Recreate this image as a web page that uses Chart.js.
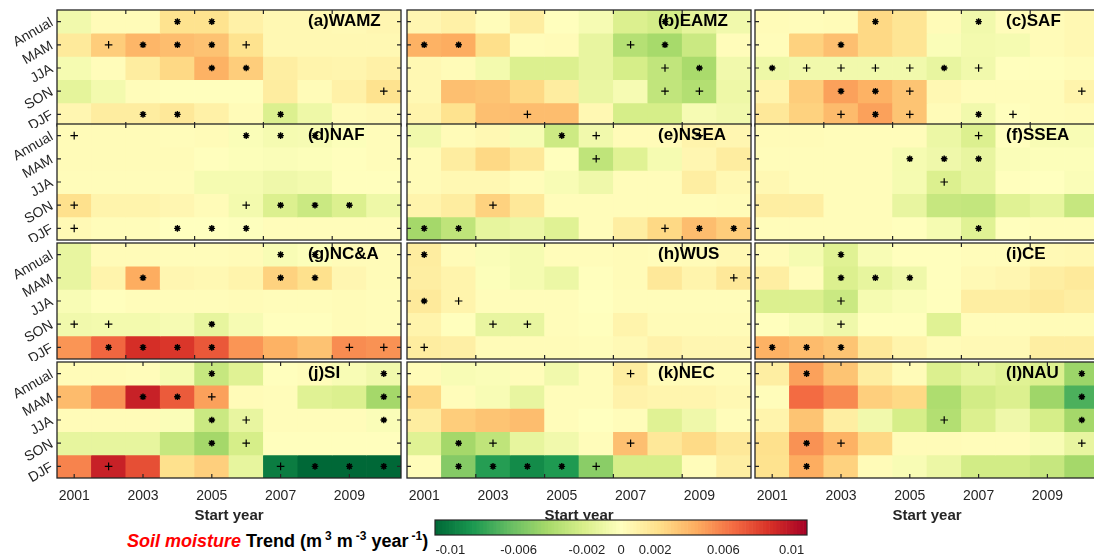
<!DOCTYPE html>
<html><head><meta charset="utf-8">
<script src="https://cdn.jsdelivr.net/npm/chart.js@4.4.1/dist/chart.umd.min.js"></script>
<style>
html,body{margin:0;padding:0;background:#fff;overflow:hidden;width:1094px;height:559px;position:relative;font-family:"Liberation Sans",Arial,sans-serif}
canvas{position:absolute}
#cblabel{position:absolute;left:127px;top:531px;font-weight:bold;font-size:18px;line-height:20px;white-space:nowrap;color:#000}
#cblabel sup{font-size:12px;vertical-align:7px;line-height:0;margin-left:3px}
</style></head><body>
<div id="cblabel"><span style="color:#ff0000;font-style:italic">Soil moisture</span> Trend (m<sup>3</sup> m<sup>-3</sup> year<sup>-1</sup>)</div>
<script>
// ---------------- data ----------------
const years = ['2001','2002','2003','2004','2005','2006','2007','2008','2009','2010'];
const seasons = ['Annual','MAM','JJA','SON','DJF'];
const panelNames = ['(a)WAMZ','(b)EAMZ','(c)SAF','(d)NAF','(e)NSEA','(f)SSEA','(g)NC&A','(h)WUS','(i)CE','(j)SI','(k)NEC','(l)NAU'];
const cbTicks = [-0.01,-0.006,-0.002,0,0.002,0.006,0.01];

// trend values (m3 m-3 year-1), rows: Annual, MAM, JJA, SON, DJF
const WAMZ = [
 [-0.0008,0.0003,0.0003,0.0020,0.0020,0.0010,0.0005,0.0005,0.0004,0.0006],
 [0.0015,0.0030,0.0040,0.0037,0.0035,0.0020,0.0005,0.0005,0.0005,0.0005],
 [-0.0006,0.0002,0.0013,0.0025,0.0042,0.0030,0.0012,0.0008,0.0007,0.0010],
 [-0.0015,-0.0007,0.0002,0.0001,0.0001,0.0001,0.0013,0.0003,0.0010,0.0020],
 [0.0006,0.0013,0.0013,0.0016,0.0010,0.0003,-0.0020,-0.0010,0.0003,0.0004]];
const EAMZ = [
 [0.0006,0.0010,0.0002,0.0013,0.0001,-0.0005,-0.0020,-0.0024,-0.0015,-0.0008],
 [0.0042,0.0044,0.0022,0.0002,0.0003,-0.0013,-0.0037,-0.0043,-0.0028,0.0002],
 [0.0005,0.0003,-0.0007,-0.0020,-0.0020,-0.0013,-0.0023,-0.0032,-0.0042,-0.0008],
 [0.0005,0.0036,0.0034,0.0025,0.0013,-0.0012,-0.0005,-0.0032,-0.0038,-0.0010],
 [0.0008,0.0020,0.0036,0.0037,0.0037,0.0005,-0.0023,-0.0023,-0.0005,-0.0008]];
const SAF = [
 [0.0003,0.0002,0.0003,0.0025,0.0018,0.0003,-0.0008,0.0002,0.0003,0.0005],
 [0.0002,0.0028,0.0036,0.0025,0.0018,-0.0003,-0.0007,-0.0006,0.0003,0.0005],
 [-0.0010,-0.0008,-0.0008,-0.0008,-0.0008,-0.0013,-0.0008,0.0001,0.0001,0.0002],
 [0.0008,0.0030,0.0048,0.0042,0.0034,0.0005,0.0002,0.0002,0.0002,0.0008],
 [0.0016,0.0028,0.0038,0.0048,0.0034,0.0003,-0.0008,0.0001,0.0002,0.0003]];
const NAF = [
 [0.0003,0.0003,0.0003,0.0002,0.0003,-0.0003,-0.0006,-0.0005,-0.0002,0.0002],
 [0.0003,0.0003,0.0003,0.0003,0.0001,-0.0002,-0.0003,-0.0002,0.0001,0.0002],
 [0.0002,0.0002,0.0002,0.0002,-0.0006,-0.0006,-0.0009,-0.0007,0.0001,0.0001],
 [0.0021,0.0008,0.0008,0.0006,0.0003,-0.0007,-0.0020,-0.0028,-0.0020,-0.0010],
 [0.0004,0.0002,0.0002,0.0000,0.0000,-0.0001,0.0002,0.0002,0.0002,0.0002]];
const NSEA = [
 [-0.0008,0.0003,0.0005,-0.0004,-0.0027,-0.0008,0.0003,0.0003,0.0008,0.0006],
 [0.0003,0.0013,0.0025,0.0016,0.0001,-0.0033,-0.0018,-0.0006,0.0006,0.0013],
 [0.0003,0.0005,0.0005,0.0002,-0.0004,-0.0009,0.0002,0.0002,0.0012,0.0005],
 [0.0008,0.0013,0.0028,0.0016,0.0002,0.0002,0.0002,0.0002,0.0002,0.0003],
 [-0.0044,-0.0033,-0.0014,-0.0011,-0.0018,0.0002,0.0012,0.0025,0.0037,0.0030]];
const SSEA = [
 [0.0003,0.0003,0.0002,0.0002,0.0002,-0.0011,-0.0020,0.0001,-0.0004,-0.0004],
 [0.0002,0.0002,0.0002,0.0002,-0.0006,-0.0009,-0.0013,-0.0003,-0.0002,-0.0002],
 [0.0005,0.0002,0.0002,0.0002,-0.0006,-0.0020,-0.0014,0.0001,0.0000,-0.0003],
 [0.0012,0.0012,0.0002,0.0002,-0.0013,-0.0030,-0.0031,-0.0018,-0.0014,-0.0030],
 [0.0002,0.0002,0.0002,0.0002,0.0001,-0.0006,-0.0018,0.0001,0.0002,0.0002]];
const NCA = [
 [-0.0013,0.0003,0.0003,0.0002,0.0002,0.0003,-0.0004,-0.0002,0.0003,0.0003],
 [-0.0013,0.0008,0.0044,0.0006,0.0005,0.0008,0.0028,0.0021,0.0006,0.0003],
 [-0.0004,0.0001,0.0002,0.0002,0.0002,0.0003,0.0002,0.0002,0.0003,0.0002],
 [-0.0008,-0.0007,-0.0007,-0.0005,-0.0014,-0.0005,0.0001,0.0001,0.0003,0.0002],
 [0.0052,0.0068,0.0088,0.0085,0.0073,0.0052,0.0042,0.0035,0.0055,0.0053]];
const WUS = [
 [0.0013,0.0003,-0.0003,-0.0006,0.0002,0.0002,0.0003,0.0002,0.0003,0.0005],
 [0.0012,0.0008,-0.0002,-0.0006,-0.0011,0.0001,0.0003,0.0016,0.0008,0.0016],
 [0.0015,0.0008,0.0002,0.0002,0.0002,0.0000,0.0002,0.0002,0.0002,0.0002],
 [0.0008,0.0001,-0.0013,-0.0013,0.0002,0.0001,0.0008,0.0003,0.0003,0.0003],
 [0.0013,0.0011,0.0003,0.0003,0.0003,0.0002,0.0004,0.0009,0.0006,0.0006]];
const CE = [
 [0.0003,-0.0006,-0.0018,-0.0004,0.0001,0.0001,0.0002,0.0002,0.0004,0.0005],
 [0.0012,0.0002,-0.0020,-0.0014,-0.0009,0.0001,0.0004,0.0006,0.0012,0.0015],
 [-0.0020,-0.0020,-0.0028,-0.0006,-0.0003,0.0001,0.0012,0.0012,0.0015,0.0012],
 [0.0001,-0.0004,-0.0009,0.0001,0.0001,-0.0018,0.0002,0.0002,0.0003,0.0003],
 [0.0042,0.0038,0.0034,0.0016,0.0008,0.0003,0.0004,0.0004,0.0012,0.0012]];
const SI = [
 [0.0003,0.0003,0.0002,-0.0006,-0.0030,-0.0018,0.0001,0.0002,-0.0004,-0.0008],
 [0.0038,0.0053,0.0094,0.0072,0.0048,0.0003,0.0002,-0.0018,-0.0020,-0.0044],
 [0.0003,0.0003,0.0003,-0.0003,-0.0028,-0.0013,0.0002,0.0002,0.0002,-0.0003],
 [-0.0014,-0.0014,-0.0014,-0.0030,-0.0044,-0.0023,0.0001,0.0001,0.0001,0.0001],
 [0.0058,0.0094,0.0076,0.0021,0.0029,-0.0014,-0.0100,-0.0110,-0.0110,-0.0110]];
const NEC = [
 [0.0003,-0.0004,-0.0003,0.0002,-0.0008,0.0002,0.0013,0.0003,0.0003,0.0003],
 [0.0025,0.0002,-0.0004,-0.0013,0.0002,0.0002,0.0009,0.0007,0.0007,0.0005],
 [0.0013,0.0030,0.0034,0.0037,0.0002,0.0000,0.0002,-0.0018,-0.0009,0.0002],
 [-0.0018,-0.0044,-0.0033,-0.0014,-0.0008,0.0002,0.0036,0.0016,0.0024,0.0016],
 [0.0002,-0.0055,-0.0084,-0.0093,-0.0086,-0.0053,-0.0023,-0.0023,0.0002,0.0012]];
const NAU = [
 [0.0012,0.0048,0.0034,0.0012,0.0003,-0.0020,-0.0014,-0.0018,-0.0020,-0.0047],
 [0.0002,0.0066,0.0056,0.0029,0.0025,-0.0040,-0.0025,-0.0020,-0.0046,-0.0073],
 [0.0008,0.0034,0.0012,-0.0008,-0.0023,-0.0038,-0.0020,-0.0009,-0.0023,-0.0044],
 [0.0021,0.0053,0.0042,0.0025,0.0003,0.0003,0.0002,0.0002,-0.0004,-0.0013],
 [0.0020,0.0044,0.0028,0.0003,-0.0004,-0.0011,-0.0025,-0.0025,-0.0030,-0.0044]];

// significance markers per row ('*' and '+'), one character per start year
const WAMZ_sig = ['...**.....','.+***+....','....**....','.........+','..**..*...'];
const EAMZ_sig = ['.......*..','**....+*..','.......+*.','.......++.','...+......'];
const SAF_sig  = ['...*..*...','..*.......','*++++*+...','..**+....+','..+*+.*+..'];
const NAF_sig  = ['+....***..','..........','..........','+....+***.','+..***....'];
const NSEA_sig = ['....*+..+.','.....+....','..........','..+.......','**.....+**'];
const SSEA_sig = ['......+...','....***...','.....+....','..........','......*...'];
const NCA_sig  = ['......**..','..*...**..','..........','++..*.....','.****...++'];
const WUS_sig  = ['*.........','.........+','*+........','..++......','+.........'];
const CE_sig   = ['..*.......','..***.....','..+.......','..+.......','***.......'];
const SI_sig   = ['....*....*','..**+....*','....*+...*','....*+....','.+....+***'];
const NEC_sig  = ['......+...','..........','..........','.*+...+...','.****+....'];
const NAU_sig  = ['.*.......*','.........*','.....+...*','.*+......+','.*........'];

const panelVals = [WAMZ,EAMZ,SAF,NAF,NSEA,SSEA,NCA,WUS,CE,SI,NEC,NAU];
const panelSig = [WAMZ_sig,EAMZ_sig,SAF_sig,NAF_sig,NSEA_sig,SSEA_sig,NCA_sig,WUS_sig,CE_sig,SI_sig,NEC_sig,NAU_sig];

// ---------------- styling ----------------
const FONT = '"Liberation Sans", Arial, sans-serif';
const AX = '#262626';
const VMIN = -0.0109, VMAX = 0.0109;
const CMAP = ['#006837','#1a9850','#66bd63','#a6d96a','#d9ef8b','#ffffbf','#fee08b','#fdae61','#f46d43','#d73027','#a50026'];
const CMAP_RGB = CMAP.map(h => [1,3,5].map(i => parseInt(h.substr(i,2),16)));
function colorOf(v){
  let t = (v - VMIN) / (VMAX - VMIN);
  t = Math.max(0, Math.min(1, t));
  const f = t * (CMAP_RGB.length - 1);
  const i = Math.min(Math.floor(f), CMAP_RGB.length - 2);
  const u = f - i;
  const a = CMAP_RGB[i], b = CMAP_RGB[i+1];
  const c = a.map((x,k) => Math.round(x + (b[k]-x)*u));
  return `rgb(${c[0]},${c[1]},${c[2]})`;
}

const COL_X = [57, 407, 755];
const ROW_Y = [10, 124, 243, 362];
const PW = 344, PH = 116;
const tickModes = ['edge','edge','edge','edge','edge','edge','edge','edge','edge','center','edge','center'];

const framePlugin = {
  id: 'frame',
  afterDatasetsDraw(chart, args, opts) {
    const {ctx, chartArea: a} = chart;
    const x = chart.scales.x, y = chart.scales.y;
    ctx.save();
    ctx.strokeStyle = AX; ctx.lineWidth = 1.2;
    ctx.beginPath();
    const tl = 4;
    [0.5,1.5,2.5,3.5,4.5].forEach(v => {
      const py = y.getPixelForValue(v);
      ctx.moveTo(a.left, py); ctx.lineTo(a.left + tl, py);
      ctx.moveTo(a.right, py); ctx.lineTo(a.right - tl, py);
    });
    const xs = opts.mode === 'center'
      ? [0,2,4,6,8].map(i => x.getPixelForValue(i))
      : [2,4,6,8].map(i => (x.getPixelForValue(i-1) + x.getPixelForValue(i)) / 2);
    xs.forEach(px => {
      ctx.moveTo(px, a.top); ctx.lineTo(px, a.top + tl);
      ctx.moveTo(px, a.bottom); ctx.lineTo(px, a.bottom - tl);
    });
    ctx.stroke();
    ctx.lineWidth = 1.3;
    ctx.strokeRect(a.left, a.top, a.right - a.left, a.bottom - a.top);
    ctx.font = 'bold 17px ' + FONT;
    ctx.fillStyle = '#000'; ctx.textAlign = 'left'; ctx.textBaseline = 'middle';
    ctx.fillText(opts.title, a.left + 251, a.top + 11);
    ctx.restore();
  }
};

function noPad(s){ s.paddingTop = 0; s.paddingBottom = 0; s.paddingLeft = 0; s.paddingRight = 0; }

function makePanel(idx) {
  const r = Math.floor(idx / 3), c = idx % 3;
  const vals = panelVals[idx], sig = panelSig[idx];
  const L = COL_X[c], T = ROW_Y[r];
  const padL = c === 0 ? 57 : 2, padT = 2, padR = 2, padB = r === 3 ? 47 : 2;
  const cv = document.createElement('canvas');
  cv.width = padL + PW + padR; cv.height = padT + PH + padB;
  cv.style.left = (L - padL) + 'px'; cv.style.top = (T - padT) + 'px';
  document.body.appendChild(cv);

  const star = [], plus = [];
  sig.forEach((row, ri) => {
    for (let k = 0; k < years.length; k++) {
      const p = {x: years[k], y: 4.5 - ri};
      if (row[k] === '*') star.push(p); else if (row[k] === '+') plus.push(p);
    }
  });
  const datasets = [
    {type:'line', data: star, showLine:false, pointStyle:'star', pointRadius:3.3, pointBorderWidth:1.4, pointBorderColor:'#000', pointBackgroundColor:'#000', order:0},
    {type:'line', data: star, showLine:false, pointStyle:'circle', pointRadius:2.2, pointBorderWidth:0, pointBackgroundColor:'#000', order:0},
    {type:'line', data: plus, showLine:false, pointStyle:'cross', pointRadius:3.8, pointBorderWidth:1.2, pointBorderColor:'#000', order:0}
  ];
  vals.forEach((row, ri) => {
    const y0 = 4 - ri;
    datasets.push({type:'bar', data: row.map(() => [y0, y0 + 1]), backgroundColor: row.map(colorOf),
      borderWidth:0, barPercentage:1, categoryPercentage:1, grouped:false, order:1});
  });

  new Chart(cv, {
    type: 'bar',
    data: {labels: years, datasets},
    plugins: [framePlugin],
    options: {
      responsive:false, animation:false, devicePixelRatio:1, events:[],
      layout: {autoPadding:false, padding: {left: c === 0 ? 0 : padL, top: padT, right: padR, bottom: r === 3 ? 0 : padB}},
      plugins: {legend:{display:false}, tooltip:{enabled:false}, frame:{title: panelNames[idx], mode: tickModes[idx]}},
      scales: {
        x: {type:'category', offset:true, display: r === 3,
            grid:{display:false, drawTicks:false}, border:{display:false},
            ticks:{autoSkip:false, maxRotation:0, minRotation:0, padding:10, color:AX, font:{family:FONT, size:14},
                   callback:(v,i) => i % 2 === 0 ? years[i] : ''},
            title:{display: r === 3, text:'Start year', color:AX, padding:0, font:{family:FONT, size:15, weight:'bold'}},
            afterFit: s => { s.height = r === 3 ? padB : 0; noPad(s); }},
        y: {type:'linear', min:0, max:5, display: c === 0,
            grid:{display:false, drawTicks:false}, border:{display:false},
            afterBuildTicks: s => { s.ticks = [0.5,1.5,2.5,3.5,4.5].map(v => ({value:v})); },
            ticks:{autoSkip:false, minRotation:30, maxRotation:30, padding:5, color:AX, font:{family:FONT, size:14},
                   callback: v => seasons[Math.round(4.5 - v)]},
            afterFit: s => { s.width = c === 0 ? padL : 0; noPad(s); }}
      }
    }
  });
}
for (let i = 0; i < 12; i++) makePanel(i);

// ---------------- colorbar ----------------
(function(){
  const cv = document.createElement('canvas');
  const cL = 420, cT = 517, cW = 400, cH = 42;
  cv.width = cW; cv.height = cH; cv.style.left = cL + 'px'; cv.style.top = cT + 'px';
  document.body.appendChild(cv);
  const N = 109, step = (VMAX - VMIN) / N;
  const ds = [];
  for (let k = 0; k < N; k++) {
    const a = VMIN + k * step, b = a + step;
    ds.push({data:[[a, b]], backgroundColor: colorOf((a + b) / 2), borderWidth:0, grouped:false, barPercentage:1, categoryPercentage:1});
  }
  const cbFrame = {id:'cbFrame', afterDatasetsDraw(chart){
    const {ctx, chartArea:a} = chart; ctx.save(); ctx.strokeStyle = AX; ctx.lineWidth = 1.2;
    ctx.strokeRect(a.left, a.top, a.right - a.left, a.bottom - a.top); ctx.restore(); }};
  new Chart(cv, {
    type:'bar', data:{labels:[''], datasets: ds}, plugins:[cbFrame],
    options:{
      indexAxis:'y', responsive:false, animation:false, devicePixelRatio:1, events:[],
      layout:{autoPadding:false, padding:{left:15, right:13, top:3, bottom:0}},
      plugins:{legend:{display:false}, tooltip:{enabled:false}},
      scales:{
        x:{type:'linear', min:VMIN, max:VMAX, grid:{display:false, drawTicks:false}, border:{display:false},
           afterBuildTicks: s => { s.ticks = cbTicks.map(v => ({value:v})); },
           ticks:{autoSkip:false, maxRotation:0, padding:8, color:'#222', font:{family:FONT, size:13}, callback: v => String(v)},
           afterFit: s => { s.height = 24; noPad(s); }},
        y:{type:'category', display:false, afterFit: s => { s.width = 0; noPad(s); }}
      }
    }
  });
})();
</script>
</body></html>
